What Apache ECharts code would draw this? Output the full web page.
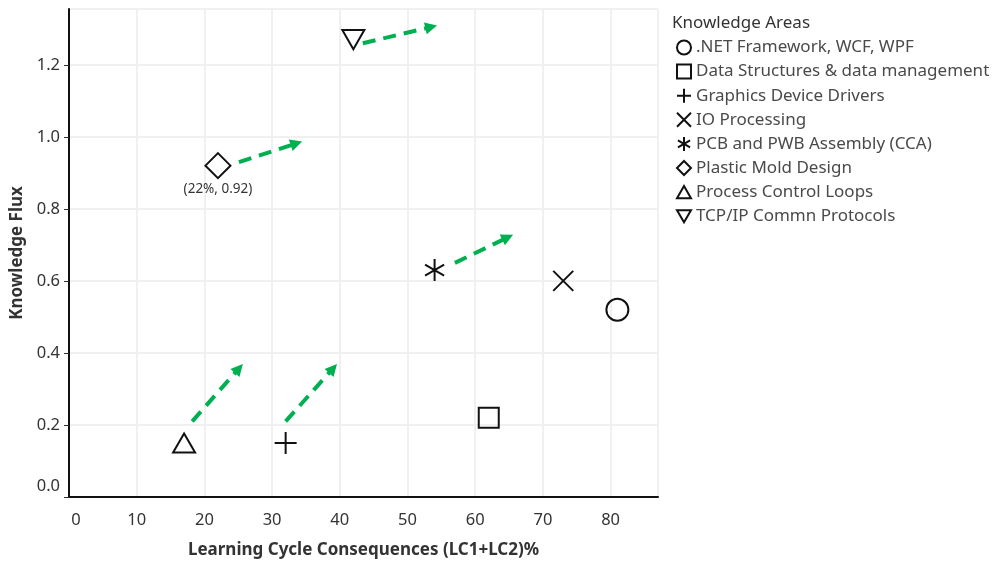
<!DOCTYPE html>
<html>
<head>
<meta charset="utf-8">
<script src="https://cdn.jsdelivr.net/npm/echarts@6.0.0/dist/echarts.min.js"></script>
<style>
html,body{margin:0;padding:0;background:#fff;}
#chart{width:997px;height:569px;}
</style>
</head>
<body>
<div id="chart"></div>
<script>
// ---- data ----
var areaNames = ['.NET Framework, WCF, WPF', 'Data Structures & data management', 'Graphics Device Drivers', 'IO Processing', 'PCB and PWB Assembly (CCA)', 'Plastic Mold Design', 'Process Control Loops', 'TCP/IP Commn Protocols'];
var lcValues = [81, 62, 32, 73, 54, 22, 17, 42];
var fluxValues = [0.52, 0.22, 0.15, 0.60, 0.63, 0.92, 0.15, 1.27];
var labeledArea = 'Plastic Mold Design';

// trend arrows (data units)
var arrowStartX = [25.1, 43.4, 57.0, 18.2, 32.0];
var arrowStartY = [0.93, 1.26, 0.65, 0.21, 0.21];
var arrowEndX = [33.6, 53.5, 64.8, 25.1, 39.0];
var arrowEndY = [0.982, 1.305, 0.721, 0.357, 0.357];

var xTicks = [0, 10, 20, 30, 40, 50, 60, 70, 80];
var yTicks = [0.0, 0.2, 0.4, 0.6, 0.8, 1.0, 1.2];

// ---- styles ----
var FONT = 'Noto Sans';
var symbols = [
  'circle',
  'rect',
  'path://M5,0L5,10M0,5L10,5',
  'path://M0,0L10,10M10,0L0,10',
  'path://M5,0L5,10M0.67,2.5L9.33,7.5M0.67,7.5L9.33,2.5',
  'diamond',
  'path://M5,0L10,8.66L0,8.66Z',
  'path://M0,0L10,0L5,8.66Z'
];
var symbolSizes = [22, 20, 22, 20, 22, 25, 22, 22];

var chart = echarts.init(document.getElementById('chart'), null, {renderer: 'canvas'});

var series = areaNames.map(function (name, i) {
  return {
    name: name,
    type: 'scatter',
    symbol: symbols[i],
    symbolSize: symbolSizes[i],
    symbolKeepAspect: true,
    itemStyle: {color: 'rgba(0,0,0,0)', borderColor: '#111', borderWidth: 2, opacity: 1},
    emphasis: {disabled: true},
    label: {
      show: name === labeledArea,
      position: 'bottom',
      distance: 3,
      fontFamily: FONT,
      fontSize: 13.5,
      color: '#333',
      formatter: function (p) { return '(' + p.value[0] + '%, ' + p.value[1].toFixed(2) + ')'; }
    },
    data: [[lcValues[i], fluxValues[i]]],
    z: 3
  };
});

series.push({
  type: 'lines',
  coordinateSystem: 'cartesian2d',
  silent: true,
  symbol: ['none', 'triangle'],
  symbolSize: [0, 12],
  lineStyle: {color: '#00b050', width: 4, type: [13, 8], opacity: 1, curveness: 0},
  data: arrowStartX.map(function (x, i) {
    return {coords: [[x, arrowStartY[i]], [arrowEndX[i], arrowEndY[i]]]};
  }),
  z: 2
});

var option = {
  backgroundColor: '#fff',
  animation: false,
  title: {
    text: 'Knowledge Areas',
    left: 672,
    top: 15,
    padding: 0,
    textStyle: {fontFamily: FONT, fontSize: 17, fontWeight: 'normal', color: '#333'}
  },
  legend: {
    orient: 'vertical',
    left: 676,
    top: 39,
    padding: 0,
    itemWidth: 14,
    itemHeight: 14,
    itemGap: 7.1,
    selectedMode: false,
    data: areaNames,
    itemStyle: {color: 'rgba(0,0,0,0)', borderColor: '#111', borderWidth: 2},
    textStyle: {fontFamily: FONT, fontSize: 17, color: '#4a4a4a'}
  },
  grid: {
    left: 69, right: 339, top: 9, bottom: 72,
    show: true, borderColor: '#dcdcdc', borderWidth: 1,
    containLabel: false, outerBoundsMode: 'none'
  },
  xAxis: {
    type: 'value',
    min: 0, max: 87, interval: 10,
    name: 'Learning Cycle Consequences (LC1+LC2)%',
    nameLocation: 'middle',
    nameGap: 45,
    nameTextStyle: {fontFamily: FONT, fontSize: 17, fontWeight: 'bold', color: '#333'},
    axisLine: {show: true, lineStyle: {color: '#111', width: 2}},
    axisTick: {show: false},
    splitLine: {show: true, lineStyle: {color: '#f0f0f0', width: 2}},
    axisLabel: {
      showMaxLabel: false,
      margin: 15,
      fontFamily: FONT, fontSize: 16.5, color: '#333',
      formatter: function (v) {
        if (xTicks.indexOf(v) < 0) return '';
        return v === 0 ? '{z|0}' : String(v);
      },
      rich: {z: {fontFamily: FONT, fontSize: 16.5, color: '#333', padding: [0, 0, 0, 14]}}
    }
  },
  yAxis: {
    type: 'value',
    min: 0, max: 1.355, interval: 0.2,
    name: 'Knowledge Flux',
    nameLocation: 'middle',
    nameGap: 42,
    nameTextStyle: {fontFamily: FONT, fontSize: 17, fontWeight: 'bold', color: '#333'},
    axisLine: {show: true, lineStyle: {color: '#111', width: 2}},
    axisTick: {show: true, length: 5, lineStyle: {color: '#333', width: 1}},
    splitLine: {show: true, lineStyle: {color: '#f0f0f0', width: 2}},
    axisLabel: {
      showMaxLabel: false,
      margin: 9,
      fontFamily: FONT, fontSize: 16.5, color: '#333',
      formatter: function (v) {
        var r = Math.round(v * 10) / 10;
        if (yTicks.indexOf(r) < 0) return '';
        return r === 0 ? '{z|0.0}' : r.toFixed(1);
      },
      rich: {z: {fontFamily: FONT, fontSize: 16.5, color: '#333', padding: [0, 0, 22, 0]}}
    }
  },
  series: series
};

chart.setOption(option);
</script>
</body>
</html>
